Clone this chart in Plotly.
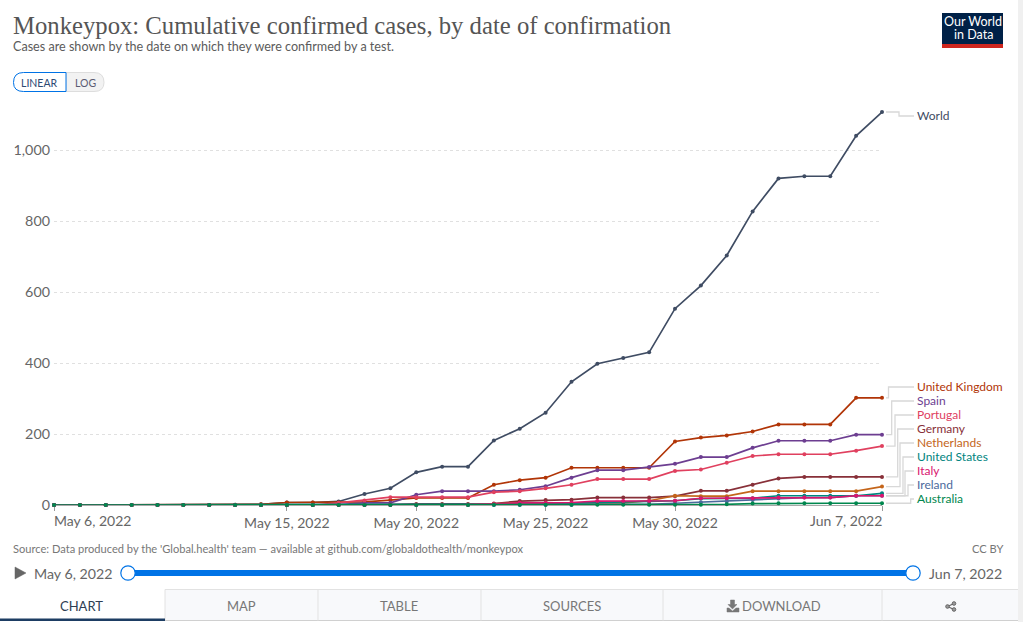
import plotly.graph_objects as go
import pandas as pd

DATES = [d.strftime("%Y-%m-%d") for d in pd.date_range("2022-05-06", "2022-06-07")]
WORLD = [0,0,0,0,0,0,0,1,2,7,7,10,31,47,92,108,108,182,215,260,347,398,414,430,553,618,703,827,920,926,926,1040,1107]
UK = [0,0,0,0,0,0,0,1,2,7,7,7,9,14,20,20,20,57,70,77,105,105,105,105,179,190,196,207,227,227,227,302,302]
SPAIN = [0,0,0,0,0,0,0,0,0,0,0,1,6,6,29,39,39,39,43,53,77,98,98,107,116,135,135,161,181,181,181,198,198]
PORTUGAL = [0,0,0,0,0,0,0,0,0,0,0,6,13,22,22,22,22,36,39,47,57,73,73,73,96,100,119,138,143,143,143,153,166]
GERMANY = [0,0,0,0,0,0,0,0,0,0,0,0,1,1,3,3,3,4,11,14,15,21,21,21,25,40,40,57,75,79,79,79,79]
NETHERLANDS = [0,0,0,0,0,0,0,0,0,0,0,0,0,0,1,1,1,3,6,6,6,6,6,12,26,25,25,39,39,39,39,39,52]
USA = [0,0,0,0,0,0,0,0,0,0,0,0,0,1,1,1,1,1,2,3,5,9,9,10,12,18,19,19,26,26,26,26,33]
ITALY = [0,0,0,0,0,0,0,0,0,0,0,0,0,1,1,1,1,3,6,6,7,11,11,11,12,19,19,19,21,21,21,26,26]
IRELAND = [0,0,0,0,0,0,0,0,0,0,0,0,0,0,0,0,0,0,0,0,0,2,2,2,5,8,10,14,18,21,21,26,26]
AUSTRALIA = [0,0,0,0,0,0,0,0,0,0,0,0,0,0,0,0,0,1,1,1,1,1,1,1,1,1,2,4,5,5,5,5,5]

NAMES = ["World","United Kingdom","Spain","Portugal","Germany","Netherlands","United States","Ireland","Italy","Australia"]
VALUES = [WORLD,UK,SPAIN,PORTUGAL,GERMANY,NETHERLANDS,USA,IRELAND,ITALY,AUSTRALIA]
COLORS = ["#3f4c63","#b13507","#6d3e91","#e0405f","#883039","#c4651a","#00847e","#4c6a9c","#d9166f","#00874e"]
LABEL_ORDER = ["World","United Kingdom","Spain","Portugal","Germany","Netherlands","United States","Italy","Ireland","Australia"]
TICK_DATES = ["2022-05-06","2022-05-15","2022-05-20","2022-05-25","2022-05-30","2022-06-07"]
Y_TICKS = [0,200,400,600,800,1000]

W, H = 1023, 622
L, R, T, B = 54, 882, 100, 505
Y_MAX = (B - T) / 0.355
FONT = "Lato"
GREY = "#666666"

def px(x): return (x - L) / (R - L)
def py(y): return (B - y) / (B - T)

fig = go.Figure()
for name, vals, col in zip(NAMES, VALUES, COLORS):
    fig.add_trace(go.Scatter(x=DATES, y=vals, name=name, mode="lines+markers",
                             line=dict(color=col, width=1.7), marker=dict(color=col, size=4),
                             cliponaxis=False, showlegend=False))

shapes, ann = [], []

def rect(x0, y0, x1, y1, fill, line=None, lw=1, layer="below"):
    shapes.append(dict(type="rect", xref="paper", yref="paper", x0=px(x0), x1=px(x1), y0=py(y0), y1=py(y1),
                       fillcolor=fill, line=dict(color=line or fill, width=lw if line else 0), layer=layer))

def path(points, line="#d8d8d8", lw=1.3, fill=None, layer="below"):
    d = "M" + " L".join(f"{px(a):.5f},{py(b):.5f}" for a, b in points)
    if fill:
        d += " Z"
    shapes.append(dict(type="path", xref="paper", yref="paper", path=d, layer=layer,
                       fillcolor=fill or "rgba(0,0,0,0)", line=dict(color=line, width=lw)))

def text(x, y, s, size=12, color=GREY, anchor="left", family=FONT):
    ann.append(dict(xref="paper", yref="paper", x=px(x), y=py(y), text=s, showarrow=False, xanchor=anchor,
                    yanchor="middle", align=anchor, xshift=0, borderpad=0, borderwidth=0,
                    font=dict(size=size, color=color, family=family)))

# title block
text(13, 25, "Monkeypox: Cumulative confirmed cases, by date of confirmation", 24.7, "#555555", family="Liberation Serif")
text(13, 46, "Cases are shown by the date on which they were confirmed by a test.", 12.6, "#5b5b5b")

# logo
rect(942, 13, 1003, 48, "#002147")
rect(942, 44, 1003, 48, "#ce261e")
text(973, 22, "Our World", 12.5, "#ffffff", "center")
text(973, 35, "in Data", 12.5, "#ffffff", "center")

# linear / log buttons
def pill(x0, x1, y0, y1, fill, stroke, left, right):
    r = 10
    d = f"M{px(x0 + (r if left else 0))},{py(y0)} L{px(x1 - (r if right else 0))},{py(y0)} "
    d += f"Q{px(x1)},{py(y0)} {px(x1)},{py(y0 + r)} Q{px(x1)},{py(y1)} {px(x1 - r)},{py(y1)} " if right else f"L{px(x1)},{py(y1)} "
    d += f"L{px(x0 + (r if left else 0))},{py(y1)} "
    d += f"Q{px(x0)},{py(y1)} {px(x0)},{py(y0 + r)} Q{px(x0)},{py(y0)} {px(x0 + r)},{py(y0)} Z" if left else f"L{px(x0)},{py(y0)} Z"
    shapes.append(dict(type="path", xref="paper", yref="paper", path=d, fillcolor=fill, line=dict(color=stroke, width=1), layer="below"))

pill(66, 104, 72.5, 91.5, "#f2f2f2", "#dddddd", False, True)
pill(13.5, 66, 72.5, 91.5, "#ffffff", "#0073e6", True, False)
text(39.5, 82.5, "LINEAR", 10.5, "#2d4a73", "center")
text(85, 82.5, "LOG", 10.5, "#5b5b73", "center")

# series labels and leader lines
LABEL_Y = [116, 387, 401, 415, 429, 443, 457, 471, 485, 499]
ELBOW_X = [899, 888.5, 891.7, 895, 897.7, 900, 903, 905, 908, 910.7]
for name, ly, ex in zip(LABEL_ORDER, LABEL_Y, ELBOW_X):
    i = NAMES.index(name)
    sy = B - VALUES[i][-1] * 0.355
    path([(886, sy), (ex, sy), (ex, ly), (914, ly)])
    text(917, ly - 0.7, name, 12, COLORS[i])

# x tick end labels: pushed inside the plot's span
text(54, 520, "May 6, 2022", 14, GREY)
text(882, 520, "Jun 7, 2022", 14, GREY, "right")

# footer
text(13, 548, "Source: Data produced by the 'Global.health' team — available at github.com/globaldothealth/monkeypox", 11.1, "#777777")
text(1003, 548, "CC BY", 11.1, "#777777", "right")

# timeline
path([(15, 567), (26, 573), (15, 579)], line=GREY, lw=0.5, fill=GREY)
text(34, 573, "May 6, 2022", 14.2, GREY)
text(1002, 573, "Jun 7, 2022", 14.2, GREY, "right")
rect(128, 570, 913, 576, "#0073e6")
for cx in (128, 913):
    shapes.append(dict(type="circle", xref="paper", yref="paper", x0=px(cx - 7.2), x1=px(cx + 7.2), y0=py(573 - 7.2), y1=py(573 + 7.2),
                       fillcolor="#ffffff", line=dict(color="#0073e6", width=1.2), layer="below"))

# tab bar
rect(165, 589.5, 1018, 620.5, "#f8f9fb")
path([(0, 620.5), (1018, 620.5)], line="#d0d0d0", lw=1)
path([(165, 589.5), (1018, 589.5)], line="#e2e2e2", lw=1)
for x in (165, 318, 481, 663, 882):
    path([(x, 589.5), (x, 620.5)], line="#e2e2e2", lw=1)
rect(0, 618.5, 165, 621, "#1d3d63")
for x, s, c in [(81, "CHART", "#2d3d52"), (241, "MAP", "#777777"), (399, "TABLE", "#777777"), (572, "SOURCES", "#777777"), (781, "DOWNLOAD", "#777777")]:
    text(x, 606, s, 13, c, "center")
# download icon
path([(730.5, 600), (734.5, 600), (734.5, 604.5), (737, 604.5), (732.5, 609), (728, 604.5), (730.5, 604.5)], line="#777777", lw=0.5, fill="#777777")
path([(727, 608), (729, 608), (732.5, 611), (736, 608), (739, 608), (739, 612), (727, 612)], line="#777777", lw=0.5, fill="#777777")
# share icon
path([(947.5, 606.5), (954, 603.5)], line="#666666", lw=1.2)
path([(947.5, 606.5), (954, 609.5)], line="#666666", lw=1.2)
for cx, cy in [(947.5, 606.5), (954, 603.5), (954, 609.5)]:
    shapes.append(dict(type="circle", xref="paper", yref="paper", x0=px(cx - 1.8), x1=px(cx + 1.8), y0=py(cy - 1.8), y1=py(cy + 1.8),
                       fillcolor="#999999", line=dict(color="#666666", width=1), layer="below"))
# page edge
rect(1018, 0, 1023, 622, "#f0f0f0")

inner = TICK_DATES[1:-1]
fig.update_layout(
    width=W, height=H, autosize=False, paper_bgcolor="#ffffff", plot_bgcolor="#ffffff",
    margin=dict(l=L, r=W - R, t=T, b=H - B, pad=0),
    font=dict(family=FONT, color=GREY),
    shapes=shapes, annotations=ann, hovermode=False,
    xaxis=dict(type="date", range=[DATES[0], DATES[-1]], tickmode="array", tickvals=TICK_DATES,
               ticktext=["" if d not in inner else pd.Timestamp(d).strftime("%b %-d, %Y") for d in TICK_DATES],
               ticks="outside", ticklen=5, tickcolor="#999999", tickwidth=1, showgrid=False,
               showline=True, linecolor="#a8a8a8", linewidth=1, zeroline=False, layer="below traces",
               tickfont=dict(size=14, color=GREY, family=FONT)),
    yaxis=dict(range=[0, Y_MAX], tickmode="array", tickvals=Y_TICKS, ticks="", ticklabelstandoff=3,
               tickformat=",d", showgrid=True, gridcolor="#e0e0e0", griddash="3px,3px", gridwidth=1,
               zeroline=False, showline=False, layer="below traces",
               tickfont=dict(size=14.3, color=GREY, family=FONT)),
)
fig.write_html("out.html", config=dict(displayModeBar=False),
               post_script="document.body.style.margin='0';document.documentElement.style.overflow='hidden';")
